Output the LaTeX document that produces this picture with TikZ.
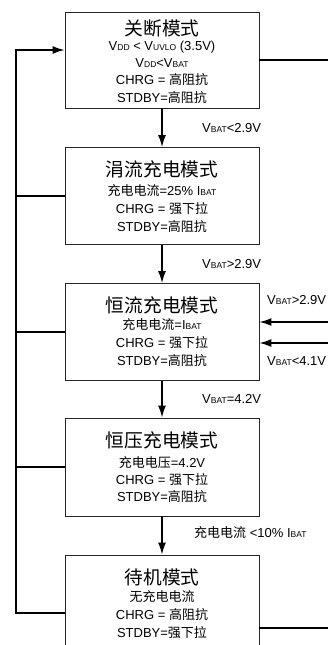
\documentclass[tikz,border=0pt]{standalone}
\usepackage{fontspec}
\setmainfont{Liberation Sans}
\newfontfamily\cjkf{Noto Sans CJK SC}
\usetikzlibrary{arrows.meta}
\newcommand\zh[1]{{\cjkf #1}}
\newcommand\sbt[1]{{\fontsize{8.5}{8.5}\selectfont #1}}
\tikzset{
  box/.style={draw=black!85, line width=0.9pt, minimum width=194pt, inner sep=0pt, fill=white},
  ttl/.style={font=\cjkf\fontsize{18.7}{20}\selectfont, inner sep=0pt},
  txt/.style={font=\fontsize{13}{15}\selectfont, inner sep=0pt},
  lbl/.style={font=\fontsize{13}{15}\selectfont, inner sep=0pt, anchor=west},
  conn/.style={line width=1.4pt, black},
  arr/.style={conn, -{Latex[length=12pt,width=8pt]}}
}
\begin{document}
\begin{tikzpicture}[x=1pt,y=-1pt]
\useasboundingbox (0,0) rectangle (328,645);
\clip (0,0) rectangle (328,645);
\fill[white] (0,0) rectangle (328,645);
% boxes
\node[box, minimum height=96pt] (b1) at (162,60) {};
\node[box, minimum height=97pt] (b2) at (162,196) {};
\node[box, minimum height=97pt] (b3) at (162,332) {};
\node[box, minimum height=98pt] (b4) at (162,467) {};
\node[box, minimum height=116pt] (b5) at (162,613) {};
% box 1 text
\node[ttl] (t1) at (162,28) {关断模式};
\node[txt] (t1a) at (162,47) {V\sbt{DD} < V\sbt{UVLO} (3.5V)};
\node[txt] (t1b) at (162,63) {V\sbt{DD}<V\sbt{BAT}};
\node[txt] (t1c) at (162,80) {CHRG = \zh{高阻抗}};
\node[txt] (t1d) at (162,98) {STDBY=\zh{高阻抗}};
% box 2 text
\node[ttl] (t2) at (162,169) {涓流充电模式};
\node[txt] (t2a) at (162,191) {\zh{充电电流}=25\% I\sbt{BAT}};
\node[txt] (t2b) at (162,209) {CHRG = \zh{强下拉}};
\node[txt] (t2c) at (162,227) {STDBY=\zh{高阻抗}};
% box 3 text
\node[ttl] (t3) at (162,305) {恒流充电模式};
\node[txt] (t3a) at (162,325) {\zh{充电电流}=I\sbt{BAT}};
\node[txt] (t3b) at (162,343) {CHRG = \zh{强下拉}};
\node[txt] (t3c) at (162,361) {STDBY=\zh{高阻抗}};
% box 4 text
\node[ttl] (t4) at (162,440) {恒压充电模式};
\node[txt] (t4a) at (162,463) {\zh{充电电压}=4.2V};
\node[txt] (t4b) at (162,480) {CHRG = \zh{强下拉}};
\node[txt] (t4c) at (162,497) {STDBY=\zh{高阻抗}};
% box 5 text
\node[ttl] (t5) at (162,577) {待机模式};
\node[txt] (t5a) at (162,597) {\zh{无充电电流}};
\node[txt] (t5b) at (162,615) {CHRG = \zh{高阻抗}};
\node[txt] (t5c) at (162,633) {STDBY=\zh{强下拉}};
% vertical arrows
\draw[arr] (b1) -- (b2);
\draw[arr] (b2) -- (b3);
\draw[arr] (b3) -- (b4);
\draw[arr] (b4) -- (b5);
% labels
\node[lbl] (l1) at (202,128) {V\sbt{BAT}<2.9V};
\node[lbl] (l2) at (202,264) {V\sbt{BAT}>2.9V};
\node[lbl] (l3) at (202,399) {V\sbt{BAT}=4.2V};
\node[lbl] (l4) at (194,533) {\zh{充电电流} <10\% I\sbt{BAT}};
\node[lbl] (l5) at (267,300) {V\sbt{BAT}>2.9V};
\node[lbl] (l6) at (267,361) {V\sbt{BAT}<4.1V};
% left feedback
\coordinate (L1) at (16,50);
\coordinate (L5) at (16,613);
\draw[conn] (b2.west) -- (b2.west -| L1);
\draw[conn] (b3.west) -- (b3.west -| L1);
\draw[conn] (b4.west) -- (b4.west -| L1);
\draw[arr] (b5.west) -- (L5) -- (L1) -- (b1.west |- L1);
% right side
\coordinate (R1) at (328,60);
\coordinate (R5) at (328,628);
\coordinate (R3a) at (328,322);
\coordinate (R3b) at (328,343);
\draw[conn] (b1.east) -- (R1);
\draw[conn] (R5 -| b5.east) -- (R5);
\draw[arr] (R3a) -- (R3a -| b3.east);
\draw[arr] (R3b) -- (R3b -| b3.east);
\end{tikzpicture}
\end{document}
